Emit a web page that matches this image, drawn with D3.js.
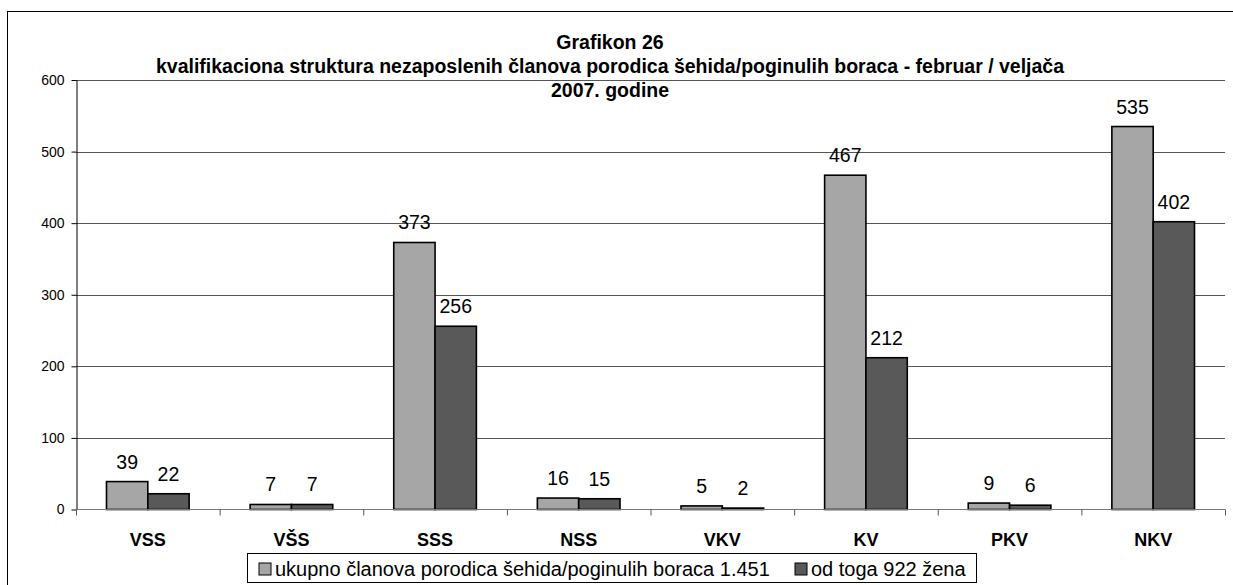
<!DOCTYPE html>
<html>
<head>
<meta charset="utf-8">
<script src="https://cdn.jsdelivr.net/npm/d3@7"></script>
<style>
  body { margin: 0; background: #fff; }
  svg { display: block; font-family: Arial, "Liberation Sans", sans-serif; }
</style>
</head>
<body>
<svg id="chart" width="1233" height="585"></svg>
<script>
// Data
const categories = ["VSS", "VŠS", "SSS", "NSS", "VKV", "KV", "PKV", "NKV"];
const ukupno = [39, 7, 373, 16, 5, 467, 9, 535];
const zene = [22, 7, 256, 15, 2, 212, 6, 402];
const seriesNames = ["ukupno članova porodica šehida/poginulih boraca 1.451", "od toga 922 žena"];
const yTicks = [0, 100, 200, 300, 400, 500, 600];
const titleLines = [
  "Grafikon 26",
  "kvalifikaciona struktura nezaposlenih članova porodica šehida/poginulih boraca - februar / veljača",
  "2007. godine"
];

const colors = ["#a6a6a6", "#595959"];

let svg = d3.select("#chart");

// outer frame (runs off the right and bottom edges like the original)
svg.append("rect")
  .attr("x", 7.5).attr("y", 11.5)
  .attr("width", 1240).attr("height", 600)
  .attr("fill", "none").attr("stroke", "#000").attr("stroke-width", 1);

const plot = {left: 76, right: 1225, top: 80, bottom: 509.5};

let y = d3.scaleLinear().domain([0, 600]).range([plot.bottom, plot.top]);
let x0 = d3.scaleBand().domain(categories).range([plot.left, plot.right]).padding(0);
let x1 = d3.scaleBand().domain([0, 1]).range([0, x0.bandwidth()]).paddingInner(0).paddingOuter(0.738);

// gridlines
svg.append("g").selectAll("line")
  .data(yTicks.filter(d => d > 0)).enter()
  .append("line")
  .attr("x1", plot.left).attr("x2", plot.right)
  .attr("y1", d => Math.round(y(d)) + 0.5).attr("y2", d => Math.round(y(d)) + 0.5)
  .attr("stroke", "#555").attr("stroke-width", 1);

// y axis
let yAxis = svg.append("g")
  .attr("transform", `translate(${plot.left + 0.5},0)`)
  .call(d3.axisLeft(y).tickValues(yTicks).tickSize(5).tickPadding(7).tickSizeOuter(0));
yAxis.select(".domain").attr("stroke", "#000");
yAxis.selectAll(".tick line").attr("stroke", "#000");
yAxis.selectAll(".tick text")
  .attr("font-size", 14).attr("fill", "#000")
  .attr("font-family", "Arial, 'Liberation Sans', sans-serif");

// bars
let groups = svg.append("g").selectAll("g")
  .data(categories).enter()
  .append("g")
  .attr("transform", d => `translate(${x0(d)},0)`);

groups.selectAll("rect")
  .data((d, i) => [ukupno[i], zene[i]]).enter()
  .append("rect")
  .attr("x", (d, j) => x1(j))
  .attr("y", d => y(d))
  .attr("width", x1.bandwidth())
  .attr("height", d => plot.bottom - y(d))
  .attr("fill", (d, j) => colors[j])
  .attr("stroke", "#000").attr("stroke-width", 1.6);

// value labels
groups.selectAll("text.val")
  .data((d, i) => [ukupno[i], zene[i]]).enter()
  .append("text")
  .attr("class", "val")
  .attr("x", (d, j) => x1(j) + x1.bandwidth() / 2)
  .attr("y", d => y(d) - 13)
  .attr("text-anchor", "middle")
  .attr("font-size", 19.5)
  .text(d => d);

// x axis
let xAxis = svg.append("g");
xAxis.append("line")
  .attr("x1", plot.left).attr("x2", plot.right)
  .attr("y1", plot.bottom).attr("y2", plot.bottom)
  .attr("stroke", "#777").attr("stroke-width", 1);
xAxis.selectAll("line.tk")
  .data(d3.range(categories.length + 1)).enter()
  .append("line")
  .attr("class", "tk")
  .attr("x1", i => plot.left + i * x0.step() + 0.5)
  .attr("x2", i => plot.left + i * x0.step() + 0.5)
  .attr("y1", plot.bottom).attr("y2", plot.bottom + 6)
  .attr("stroke", "#555");
xAxis.selectAll("text")
  .data(categories).enter()
  .append("text")
  .attr("x", d => x0(d) + x0.bandwidth() / 2)
  .attr("y", 546)
  .attr("text-anchor", "middle")
  .attr("font-size", 18).attr("font-weight", "bold")
  .text(d => d);

// title
svg.append("g").selectAll("text")
  .data(titleLines).enter()
  .append("text")
  .attr("x", 610)
  .attr("y", (d, i) => 49 + i * 24)
  .attr("text-anchor", "middle")
  .attr("font-size", 19.5).attr("font-weight", "bold")
  .text(d => d);

// legend
let legend = svg.append("g");
legend.append("rect")
  .attr("x", 247.5).attr("y", 553.5)
  .attr("width", 729).attr("height", 29)
  .attr("fill", "#fff").attr("stroke", "#000");
let legendX = [259, 795];
let item = legend.selectAll("g")
  .data(seriesNames).enter()
  .append("g")
  .attr("transform", (d, i) => `translate(${legendX[i]},563)`);
item.append("rect")
  .attr("width", 12).attr("height", 12)
  .attr("fill", (d, i) => colors[i]).attr("stroke", "#000");
item.append("text")
  .attr("x", 16).attr("y", 13)
  .attr("font-size", 20)
  .text(d => d);
</script>
</body>
</html>
